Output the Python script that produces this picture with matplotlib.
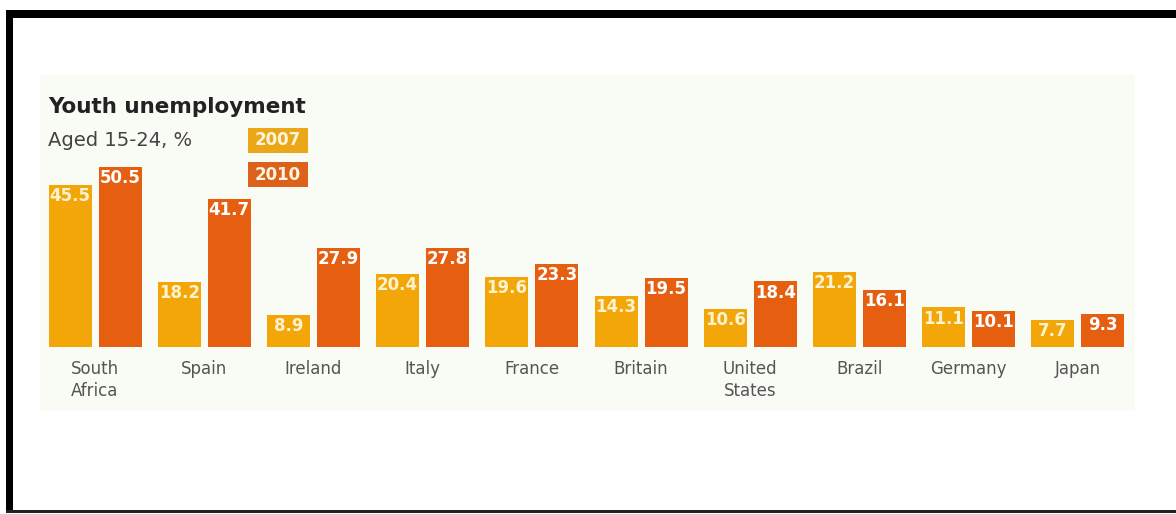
import matplotlib
matplotlib.use("Agg")
import matplotlib.pyplot as plt
from matplotlib.patches import Rectangle
import numpy as np

categories = ["South\nAfrica", "Spain", "Ireland", "Italy", "France", "Britain",
              "United\nStates", "Brazil", "Germany", "Japan"]
values_2007 = [45.5, 18.2, 8.9, 20.4, 19.6, 14.3, 10.6, 21.2, 11.1, 7.7]
values_2010 = [50.5, 41.7, 27.9, 27.8, 23.3, 19.5, 18.4, 16.1, 10.1, 9.3]
series_labels = ["2007", "2010"]

C07 = "#F3A608"
C10 = "#E65E10"

W, H = 1176, 514
fig = plt.figure(figsize=(W / 100, H / 100), dpi=100)
fig.patch.set_facecolor("white")

def fx(px):
    return px / W

def fy(py):
    return 1 - py / H

# faint panel
fig.patches.append(Rectangle((fx(40), fy(410)), fx(1135) - fx(40), fy(75) - fy(410),
                             transform=fig.transFigure, facecolor="#f9fbf5",
                             edgecolor="none", zorder=-1))
# black frame (top, left, bottom)
fig.patches.append(Rectangle((fx(6), fy(18)), 1 - fx(6), fy(10) - fy(18),
                             transform=fig.transFigure, facecolor="black",
                             edgecolor="none", zorder=5))
fig.patches.append(Rectangle((fx(6), fy(513)), fx(13) - fx(6), fy(10) - fy(513),
                             transform=fig.transFigure, facecolor="black",
                             edgecolor="none", zorder=5))
fig.patches.append(Rectangle((fx(6), fy(513)), 1 - fx(6), fy(510) - fy(513),
                             transform=fig.transFigure, facecolor="#222222",
                             edgecolor="none", zorder=5))

base_px = 347
top_px = 75
ppu = 3.56
spacing = 109.2
ax = fig.add_axes([fx(40), fy(base_px), fx(1135) - fx(40), fy(top_px) - fy(base_px)])
ax.set_facecolor("none")
ax.set_zorder(1)
ax.set_xlim(-(95 - 40) / spacing, (1135 - 95) / spacing)
ax.set_ylim(0, (base_px - top_px) / ppu)

x = np.arange(len(categories))
bw = 43 / spacing
off = 25 / spacing
b1 = ax.bar(x - off, values_2007, width=bw, color=C07, zorder=2)
b2 = ax.bar(x + off, values_2010, width=bw, color=C10, zorder=2)

for bars, vals, tc in ((b1, values_2007, "#fdf3d0"), (b2, values_2010, "white")):
    for r, v in zip(bars, vals):
        ax.annotate(f"{v:.1f}", (r.get_x() + r.get_width() / 2, v),
                    xytext=(0, -1.5), textcoords="offset points",
                    ha="center", va="top", color=tc, fontsize=12,
                    fontweight="bold", zorder=3)

ax.set_xticks(x)
ax.set_xticklabels(categories, fontsize=12, color="#555555", linespacing=1.35)
ax.tick_params(axis="x", length=0, pad=9)
ax.set_yticks([])
for s in ax.spines.values():
    s.set_visible(False)

# title and subtitle
fig.text(fx(48), fy(107), "Youth unemployment", fontsize=15.5, fontweight="bold",
         color="#222222", ha="left", va="center")
fig.text(fx(48), fy(141), "Aged 15-24, %", fontsize=14, color="#444444",
         ha="left", va="center")

# legend boxes
for lbl, col, ytop in ((series_labels[0], "#EBA718", 128), (series_labels[1], "#DC621C", 162)):
    fig.patches.append(Rectangle((fx(248), fy(ytop + 25)), fx(308) - fx(248), fy(ytop) - fy(ytop + 25),
                                 transform=fig.transFigure, facecolor=col, edgecolor="none", zorder=3))
    fig.text(fx(278), fy(ytop + 12.5), lbl, fontsize=12, fontweight="bold",
             color="#fff6e0", ha="center", va="center", zorder=4)

fig.savefig("out.png", dpi=100, facecolor="white")
